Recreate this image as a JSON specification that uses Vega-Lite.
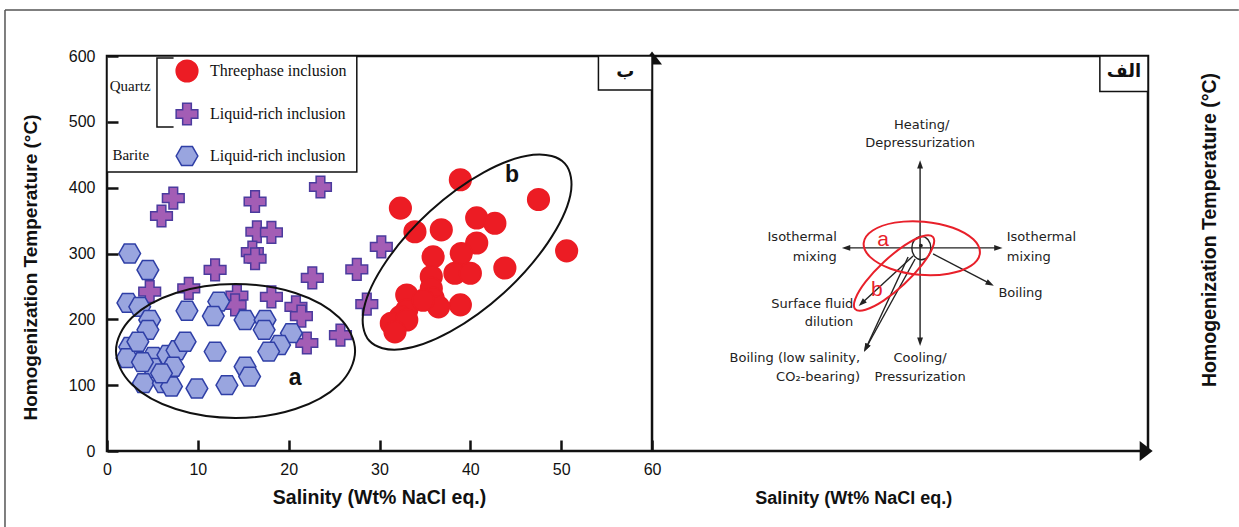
{
  "$schema": "https://vega.github.io/schema/vega-lite/v6.json",
  "width": 1041,
  "height": 395,
  "autosize": {"type": "none"},
  "padding": {"left": 107, "top": 56, "right": 91, "bottom": 76},
  "background": "white",
  "config": {
    "font": "Liberation Sans",
    "view": {"stroke": "#111", "strokeWidth": 2.5},
    "axis": {"grid": false}
  },
  "datasets": {
    "inclusions": [
      {"type": "Liquid-rich inclusion (quartz)", "salinity": 7.3, "temperature": 384},
      {"type": "Liquid-rich inclusion (quartz)", "salinity": 6.0, "temperature": 357},
      {"type": "Liquid-rich inclusion (quartz)", "salinity": 16.3, "temperature": 379},
      {"type": "Liquid-rich inclusion (quartz)", "salinity": 16.5, "temperature": 333},
      {"type": "Liquid-rich inclusion (quartz)", "salinity": 18.1, "temperature": 332},
      {"type": "Liquid-rich inclusion (quartz)", "salinity": 16.0, "temperature": 302},
      {"type": "Liquid-rich inclusion (quartz)", "salinity": 16.3, "temperature": 292},
      {"type": "Liquid-rich inclusion (quartz)", "salinity": 23.5, "temperature": 401},
      {"type": "Liquid-rich inclusion (quartz)", "salinity": 11.9, "temperature": 275},
      {"type": "Liquid-rich inclusion (quartz)", "salinity": 30.2, "temperature": 310},
      {"type": "Liquid-rich inclusion (quartz)", "salinity": 27.5, "temperature": 276},
      {"type": "Liquid-rich inclusion (quartz)", "salinity": 22.6, "temperature": 263},
      {"type": "Liquid-rich inclusion (quartz)", "salinity": 4.7, "temperature": 242},
      {"type": "Liquid-rich inclusion (quartz)", "salinity": 9.0, "temperature": 247},
      {"type": "Liquid-rich inclusion (quartz)", "salinity": 14.3, "temperature": 236},
      {"type": "Liquid-rich inclusion (quartz)", "salinity": 18.1, "temperature": 234},
      {"type": "Liquid-rich inclusion (quartz)", "salinity": 28.6, "temperature": 223},
      {"type": "Liquid-rich inclusion (quartz)", "salinity": 20.8, "temperature": 219},
      {"type": "Liquid-rich inclusion (quartz)", "salinity": 21.4, "temperature": 205},
      {"type": "Liquid-rich inclusion (quartz)", "salinity": 25.7, "temperature": 176},
      {"type": "Liquid-rich inclusion (quartz)", "salinity": 22.0, "temperature": 164},
      {"type": "Liquid-rich inclusion (quartz)", "salinity": 14.1, "temperature": 222},
      {"type": "Liquid-rich inclusion (barite)", "salinity": 2.5, "temperature": 300},
      {"type": "Liquid-rich inclusion (barite)", "salinity": 4.5, "temperature": 275},
      {"type": "Liquid-rich inclusion (barite)", "salinity": 2.3, "temperature": 225},
      {"type": "Liquid-rich inclusion (barite)", "salinity": 3.6, "temperature": 219},
      {"type": "Liquid-rich inclusion (barite)", "salinity": 4.7, "temperature": 199},
      {"type": "Liquid-rich inclusion (barite)", "salinity": 4.5, "temperature": 184},
      {"type": "Liquid-rich inclusion (barite)", "salinity": 8.8, "temperature": 213},
      {"type": "Liquid-rich inclusion (barite)", "salinity": 12.3, "temperature": 227},
      {"type": "Liquid-rich inclusion (barite)", "salinity": 11.7, "temperature": 205},
      {"type": "Liquid-rich inclusion (barite)", "salinity": 15.2, "temperature": 199},
      {"type": "Liquid-rich inclusion (barite)", "salinity": 17.4, "temperature": 199},
      {"type": "Liquid-rich inclusion (barite)", "salinity": 17.3, "temperature": 184},
      {"type": "Liquid-rich inclusion (barite)", "salinity": 20.3, "temperature": 179},
      {"type": "Liquid-rich inclusion (barite)", "salinity": 19.0, "temperature": 161},
      {"type": "Liquid-rich inclusion (barite)", "salinity": 17.8, "temperature": 151},
      {"type": "Liquid-rich inclusion (barite)", "salinity": 2.5, "temperature": 158},
      {"type": "Liquid-rich inclusion (barite)", "salinity": 2.2, "temperature": 141},
      {"type": "Liquid-rich inclusion (barite)", "salinity": 3.4, "temperature": 166},
      {"type": "Liquid-rich inclusion (barite)", "salinity": 5.1, "temperature": 143},
      {"type": "Liquid-rich inclusion (barite)", "salinity": 6.7, "temperature": 146},
      {"type": "Liquid-rich inclusion (barite)", "salinity": 7.7, "temperature": 153},
      {"type": "Liquid-rich inclusion (barite)", "salinity": 8.6, "temperature": 166},
      {"type": "Liquid-rich inclusion (barite)", "salinity": 5.1, "temperature": 126},
      {"type": "Liquid-rich inclusion (barite)", "salinity": 7.3, "temperature": 128},
      {"type": "Liquid-rich inclusion (barite)", "salinity": 11.9, "temperature": 151},
      {"type": "Liquid-rich inclusion (barite)", "salinity": 15.2, "temperature": 128},
      {"type": "Liquid-rich inclusion (barite)", "salinity": 15.7, "temperature": 113},
      {"type": "Liquid-rich inclusion (barite)", "salinity": 4.0, "temperature": 103},
      {"type": "Liquid-rich inclusion (barite)", "salinity": 6.2, "temperature": 103},
      {"type": "Liquid-rich inclusion (barite)", "salinity": 7.1, "temperature": 98},
      {"type": "Liquid-rich inclusion (barite)", "salinity": 9.9, "temperature": 95},
      {"type": "Liquid-rich inclusion (barite)", "salinity": 13.2, "temperature": 100},
      {"type": "Liquid-rich inclusion (barite)", "salinity": 3.9, "temperature": 135},
      {"type": "Liquid-rich inclusion (barite)", "salinity": 6.0, "temperature": 118},
      {"type": "Threephase inclusion", "salinity": 38.9, "temperature": 412},
      {"type": "Threephase inclusion", "salinity": 32.3, "temperature": 369},
      {"type": "Threephase inclusion", "salinity": 47.5, "temperature": 382},
      {"type": "Threephase inclusion", "salinity": 40.7, "temperature": 354},
      {"type": "Threephase inclusion", "salinity": 42.7, "temperature": 346},
      {"type": "Threephase inclusion", "salinity": 33.9, "temperature": 333},
      {"type": "Threephase inclusion", "salinity": 36.8, "temperature": 336},
      {"type": "Threephase inclusion", "salinity": 50.6, "temperature": 304},
      {"type": "Threephase inclusion", "salinity": 40.7, "temperature": 316},
      {"type": "Threephase inclusion", "salinity": 39.0, "temperature": 300},
      {"type": "Threephase inclusion", "salinity": 35.9, "temperature": 295},
      {"type": "Threephase inclusion", "salinity": 43.8, "temperature": 278},
      {"type": "Threephase inclusion", "salinity": 38.3, "temperature": 270},
      {"type": "Threephase inclusion", "salinity": 40.0, "temperature": 270},
      {"type": "Threephase inclusion", "salinity": 35.7, "temperature": 265},
      {"type": "Threephase inclusion", "salinity": 35.7, "temperature": 247},
      {"type": "Threephase inclusion", "salinity": 33.0, "temperature": 237},
      {"type": "Threephase inclusion", "salinity": 35.9, "temperature": 232},
      {"type": "Threephase inclusion", "salinity": 38.9, "temperature": 222},
      {"type": "Threephase inclusion", "salinity": 36.5, "temperature": 219},
      {"type": "Threephase inclusion", "salinity": 33.0, "temperature": 214},
      {"type": "Threephase inclusion", "salinity": 32.3, "temperature": 204},
      {"type": "Threephase inclusion", "salinity": 31.3, "temperature": 194},
      {"type": "Threephase inclusion", "salinity": 33.0, "temperature": 199},
      {"type": "Threephase inclusion", "salinity": 31.7, "temperature": 181},
      {"type": "Threephase inclusion", "salinity": 34.8, "temperature": 229}
    ],
    "envelopes": [
      {"envelope": "a", "i": 0, "salinity": 27.31, "temperature": 151.9},
      {"envelope": "a", "i": 1, "salinity": 25.55, "temperature": 202.8},
      {"envelope": "a", "i": 2, "salinity": 20.73, "temperature": 240.1},
      {"envelope": "a", "i": 3, "salinity": 14.15, "temperature": 253.7},
      {"envelope": "a", "i": 4, "salinity": 7.57, "temperature": 240.1},
      {"envelope": "a", "i": 5, "salinity": 2.75, "temperature": 202.8},
      {"envelope": "a", "i": 6, "salinity": 0.99, "temperature": 151.9},
      {"envelope": "a", "i": 7, "salinity": 2.75, "temperature": 101.0},
      {"envelope": "a", "i": 8, "salinity": 7.57, "temperature": 63.7},
      {"envelope": "a", "i": 9, "salinity": 14.15, "temperature": 50.1},
      {"envelope": "a", "i": 10, "salinity": 20.73, "temperature": 63.7},
      {"envelope": "a", "i": 11, "salinity": 25.55, "temperature": 101.0},
      {"envelope": "b", "i": 0, "salinity": 50.39, "temperature": 436.9},
      {"envelope": "b", "i": 1, "salinity": 51.0, "temperature": 388.0},
      {"envelope": "b", "i": 2, "salinity": 48.52, "temperature": 316.2},
      {"envelope": "b", "i": 3, "salinity": 43.71, "temperature": 240.4},
      {"envelope": "b", "i": 4, "salinity": 37.79, "temperature": 181.3},
      {"envelope": "b", "i": 5, "salinity": 32.36, "temperature": 154.5},
      {"envelope": "b", "i": 6, "salinity": 28.88, "temperature": 167.4},
      {"envelope": "b", "i": 7, "salinity": 28.28, "temperature": 216.5},
      {"envelope": "b", "i": 8, "salinity": 30.74, "temperature": 288.2},
      {"envelope": "b", "i": 9, "salinity": 35.56, "temperature": 364.1},
      {"envelope": "b", "i": 10, "salinity": 41.48, "temperature": 423.2},
      {"envelope": "b", "i": 11, "salinity": 46.91, "temperature": 449.9}
    ],
    "envelopeLabels": [
      {"label": "a", "salinity": 20.7, "temperature": 111},
      {"label": "b", "salinity": 44.6, "temperature": 419}
    ],
    "schemeEnvelopes": [
      {"envelope": "a", "i": 0, "salinity": 96.09, "temperature": 300.2},
      {"envelope": "a", "i": 1, "salinity": 95.09, "temperature": 281.1},
      {"envelope": "a", "i": 2, "salinity": 92.65, "temperature": 269.2},
      {"envelope": "a", "i": 3, "salinity": 89.44, "temperature": 267.6},
      {"envelope": "a", "i": 4, "salinity": 86.27, "temperature": 276.9},
      {"envelope": "a", "i": 5, "salinity": 84.03, "temperature": 294.5},
      {"envelope": "a", "i": 6, "salinity": 83.3, "temperature": 315.8},
      {"envelope": "a", "i": 7, "salinity": 84.29, "temperature": 334.9},
      {"envelope": "a", "i": 8, "salinity": 86.72, "temperature": 346.9},
      {"envelope": "a", "i": 9, "salinity": 89.95, "temperature": 348.4},
      {"envelope": "a", "i": 10, "salinity": 93.12, "temperature": 339.2},
      {"envelope": "a", "i": 11, "salinity": 95.37, "temperature": 321.5},
      {"envelope": "b", "i": 0, "salinity": 90.92, "temperature": 325.2},
      {"envelope": "b", "i": 1, "salinity": 90.91, "temperature": 309.6},
      {"envelope": "b", "i": 2, "salinity": 89.76, "temperature": 283.4},
      {"envelope": "b", "i": 3, "salinity": 87.77, "temperature": 253.6},
      {"envelope": "b", "i": 4, "salinity": 85.49, "temperature": 228.4},
      {"envelope": "b", "i": 5, "salinity": 83.5, "temperature": 214.5},
      {"envelope": "b", "i": 6, "salinity": 82.37, "temperature": 215.4},
      {"envelope": "b", "i": 7, "salinity": 82.38, "temperature": 231.2},
      {"envelope": "b", "i": 8, "salinity": 83.52, "temperature": 257.3},
      {"envelope": "b", "i": 9, "salinity": 85.52, "temperature": 287.1},
      {"envelope": "b", "i": 10, "salinity": 87.8, "temperature": 312.4},
      {"envelope": "b", "i": 11, "salinity": 89.78, "temperature": 326.3}
    ],
    "schemeEnvelopeLabels": [
      {"label": "a", "salinity": 85.43, "temperature": 320.5},
      {"label": "b", "salinity": 84.74, "temperature": 244.6}
    ],
    "fluidCore": [
      {"i": 0, "salinity": 90.7, "temperature": 308.2},
      {"i": 1, "salinity": 90.39, "temperature": 320.8},
      {"i": 2, "salinity": 89.65, "temperature": 326.0},
      {"i": 3, "salinity": 88.91, "temperature": 320.8},
      {"i": 4, "salinity": 88.6, "temperature": 308.2},
      {"i": 5, "salinity": 88.91, "temperature": 295.6},
      {"i": 6, "salinity": 89.65, "temperature": 290.4},
      {"i": 7, "salinity": 90.39, "temperature": 295.6}
    ],
    "processArrows": [
      {"process": "Heating/Depressurization", "salinity": 89.51, "temperature": 308.5, "salinity2": 89.51, "temperature2": 435.4, "heading": 0},
      {"process": "Cooling/Pressurization", "salinity": 89.51, "temperature": 308.5, "salinity2": 89.51, "temperature2": 166.0, "heading": 180},
      {"process": "Isothermal mixing (low)", "salinity": 89.51, "temperature": 308.5, "salinity2": 81.36, "temperature2": 308.5, "heading": 270},
      {"process": "Isothermal mixing (high)", "salinity": 89.51, "temperature": 308.5, "salinity2": 98.13, "temperature2": 308.5, "heading": 90},
      {"process": "Boiling", "salinity": 90.94, "temperature": 299.3, "salinity2": 97.22, "temperature2": 254.1, "heading": 117.5},
      {"process": "Surface fluid dilution", "salinity": 88.74, "temperature": 296.2, "salinity2": 83.09, "temperature2": 224.4, "heading": 227.3},
      {"process": "Boiling (low salinity, CO2-bearing)", "salinity": 88.96, "temperature": 291.7, "salinity2": 83.56, "temperature2": 156.5, "heading": 208.8},
      {"process": "Boiling (low salinity, CO2-bearing)", "salinity": 88.19, "temperature": 294.7, "salinity2": 83.56, "temperature2": 156.5, "heading": 206.5}
    ],
    "labelsRight": [
      {"text": "Isothermal", "salinity": 80.34, "temperature": 325.5},
      {"text": "mixing", "salinity": 80.34, "temperature": 295.1},
      {"text": "Surface fluid", "salinity": 82.16, "temperature": 223.3},
      {"text": "dilution", "salinity": 82.16, "temperature": 196.4},
      {"text": "Boiling (low salinity,", "salinity": 82.9, "temperature": 140.8},
      {"text": "CO₂-bearing)", "salinity": 82.9, "temperature": 112.9}
    ],
    "labelsLeft": [
      {"text": "Isothermal", "salinity": 99.05, "temperature": 325.5},
      {"text": "mixing", "salinity": 99.05, "temperature": 295.1},
      {"text": "Boiling", "salinity": 98.13, "temperature": 239.6}
    ],
    "labelsCenter": [
      {"text": "Heating/", "salinity": 89.69, "temperature": 495.2},
      {"text": "Depressurization", "salinity": 89.51, "temperature": 467.4},
      {"text": "Cooling/", "salinity": 89.51, "temperature": 140.8},
      {"text": "Pressurization", "salinity": 89.51, "temperature": 112.9}
    ],
    "bracket": [
      {"i": 0, "salinity": 7.33, "temperature": 597},
      {"i": 1, "salinity": 5.5, "temperature": 597},
      {"i": 2, "salinity": 5.5, "temperature": 492},
      {"i": 3, "salinity": 7.33, "temperature": 492}
    ]
  },
  "layer": [
    {
      "data": {"values": [{}]},
      "mark": {"type": "rule", "color": "#555", "strokeWidth": 1.5},
      "encoding": {"x": {"datum": -11.23}, "x2": {"datum": 124.6}, "y": {"datum": 669.9}}
    },
    {
      "data": {"values": [{}]},
      "mark": {"type": "rule", "color": "#555", "strokeWidth": 1.5},
      "encoding": {"x": {"datum": -11.23}, "y": {"datum": 669.9}, "y2": {"datum": -115.4}}
    },
    {
      "data": {"values": [{}]},
      "mark": {"type": "rect", "fill": "white", "stroke": "#111", "strokeWidth": 1.5},
      "encoding": {"x": {"datum": 0}, "x2": {"datum": 27.5}, "y": {"datum": 423.8}, "y2": {"datum": 600}}
    },
    {
      "data": {"values": [{}]},
      "mark": {"type": "text", "font": "Liberation Serif", "fontSize": 15, "align": "left", "baseline": "middle", "color": "#111"},
      "encoding": {"x": {"datum": 0.3}, "y": {"datum": 554}, "text": {"value": "Quartz"}}
    },
    {
      "data": {"values": [{}]},
      "mark": {"type": "text", "font": "Liberation Serif", "fontSize": 15, "align": "left", "baseline": "middle", "color": "#111"},
      "encoding": {"x": {"datum": 0.6}, "y": {"datum": 450}, "text": {"value": "Barite"}}
    },
    {
      "data": {"name": "bracket"},
      "mark": {"type": "line", "color": "#111", "strokeWidth": 1.5},
      "encoding": {
        "x": {"field": "salinity", "type": "quantitative"},
        "y": {"field": "temperature", "type": "quantitative"},
        "order": {"field": "i", "type": "quantitative"}
      }
    },
    {
      "data": {"name": "inclusions"},
      "mark": {"type": "point", "filled": true, "opacity": 1, "size": 470, "strokeWidth": 1.5},
      "encoding": {
        "x": {
          "field": "salinity",
          "type": "quantitative",
          "scale": {"domain": [0, 114.6], "nice": false, "zero": false},
          "axis": {
            "values": [0, 10, 20, 30, 40, 50, 60],
            "title": "Salinity (Wt% NaCl eq.)",
            "titleX": 272,
            "titleY": 48,
            "titleAlign": "center",
            "titleBaseline": "top",
            "titleFontSize": 19.5,
            "titleFontWeight": "bold",
            "titleColor": "#111",
            "labelFontSize": 16,
            "labelColor": "#111",
            "labelFlush": false,
            "offset": -11,
            "tickSize": 11,
            "tickWidth": 2.5,
            "tickColor": "#111",
            "labelPadding": 10,
            "domain": false,
            "grid": false,
            "zindex": 1
          }
        },
        "y": {
          "field": "temperature",
          "type": "quantitative",
          "scale": {"domain": [0, 600], "nice": false, "zero": false},
          "axis": {
            "values": [0, 100, 200, 300, 400, 500, 600],
            "title": "Homogenization Temperature (°C)",
            "titleX": -88,
            "titleY": 211,
            "titleAngle": 270,
            "titleAlign": "center",
            "titleBaseline": "middle",
            "titleFontSize": 19,
            "titleFontWeight": "bold",
            "titleColor": "#111",
            "labelFontSize": 16,
            "labelColor": "#111",
            "labelFlush": false,
            "offset": -11,
            "tickSize": 11,
            "tickWidth": 2.5,
            "tickColor": "#111",
            "labelPadding": 12,
            "domain": false,
            "grid": false,
            "zindex": 1
          }
        },
        "shape": {
          "field": "type",
          "type": "nominal",
          "scale": {
            "domain": ["Threephase inclusion", "Liquid-rich inclusion (quartz)", "Liquid-rich inclusion (barite)"],
            "range": ["circle", "cross", "M-1,0L-0.5,-0.87L0.5,-0.87L1,0L0.5,0.87L-0.5,0.87Z"]
          },
          "legend": {
            "title": null,
            "orient": "none",
            "legendX": 68,
            "legendY": 3,
            "padding": 0,
            "rowPadding": 15,
            "symbolSize": 470,
            "symbolStrokeWidth": 1.5,
            "symbolOpacity": 1,
            "labelFont": "Liberation Serif",
            "labelFontSize": 16,
            "labelColor": "#111",
            "labelOffset": 11,
            "labelExpr": "split(datum.label, ' (')[0]"
          }
        },
        "fill": {
          "field": "type",
          "type": "nominal",
          "scale": {
            "domain": ["Threephase inclusion", "Liquid-rich inclusion (quartz)", "Liquid-rich inclusion (barite)"],
            "range": ["#ec1c24", "#a35db5", "#99a5df"]
          }
        },
        "stroke": {
          "field": "type",
          "type": "nominal",
          "scale": {
            "domain": ["Threephase inclusion", "Liquid-rich inclusion (quartz)", "Liquid-rich inclusion (barite)"],
            "range": ["#ec1c24", "#4b3b9e", "#2f3fa6"]
          }
        }
      }
    },
    {
      "data": {"name": "envelopes"},
      "mark": {"type": "line", "interpolate": "cardinal-closed", "color": "#111", "strokeWidth": 2},
      "encoding": {
        "x": {"field": "salinity", "type": "quantitative"},
        "y": {"field": "temperature", "type": "quantitative"},
        "detail": {"field": "envelope", "type": "nominal"},
        "order": {"field": "i", "type": "quantitative"}
      }
    },
    {
      "data": {"name": "envelopeLabels"},
      "mark": {"type": "text", "fontSize": 23, "fontWeight": "bold", "color": "#111", "baseline": "middle"},
      "encoding": {
        "x": {"field": "salinity", "type": "quantitative"},
        "y": {"field": "temperature", "type": "quantitative"},
        "text": {"field": "label"}
      }
    },
    {
      "data": {"values": [{}]},
      "mark": {"type": "rule", "color": "#111", "strokeWidth": 2.5},
      "encoding": {"x": {"datum": 60}, "y": {"datum": 0}, "y2": {"datum": 600}}
    },
    {
      "data": {"values": [{}]},
      "mark": {"type": "point", "shape": "M0,-0.65L1,0.65L-1,0.65Z", "size": 400, "filled": true, "color": "#111", "opacity": 1},
      "encoding": {"x": {"datum": 60}, "y": {"datum": 597}}
    },
    {
      "data": {"values": [{}]},
      "mark": {"type": "point", "shape": "M0.65,0L-0.65,1L-0.65,-1Z", "size": 400, "filled": true, "color": "#111", "opacity": 1},
      "encoding": {"x": {"datum": 114.4}, "y": {"datum": 0}}
    },
    {
      "data": {"values": [{}]},
      "mark": {"type": "rect", "fill": "white", "stroke": "#111", "strokeWidth": 1.5},
      "encoding": {"x": {"datum": 54.1}, "x2": {"datum": 60}, "y": {"datum": 548.4}, "y2": {"datum": 600}}
    },
    {
      "data": {"values": [{}]},
      "mark": {"type": "text", "font": "DejaVu Sans", "fontSize": 18, "fontWeight": "bold", "color": "#111", "baseline": "middle"},
      "encoding": {"x": {"datum": 57.05}, "y": {"datum": 575}, "text": {"value": "ب"}}
    },
    {
      "data": {"values": [{}]},
      "mark": {"type": "rect", "fill": "white", "stroke": "#111", "strokeWidth": 1.5},
      "encoding": {"x": {"datum": 109.3}, "x2": {"datum": 114.6}, "y": {"datum": 546}, "y2": {"datum": 600}}
    },
    {
      "data": {"values": [{}]},
      "mark": {"type": "text", "font": "DejaVu Sans", "fontSize": 18, "fontWeight": "bold", "color": "#111", "baseline": "middle"},
      "encoding": {"x": {"datum": 111.95}, "y": {"datum": 575}, "text": {"value": "الف"}}
    },
    {
      "data": {"name": "processArrows"},
      "mark": {"type": "rule", "color": "#222", "strokeWidth": 1.4},
      "encoding": {
        "x": {"field": "salinity", "type": "quantitative"},
        "y": {"field": "temperature", "type": "quantitative"},
        "x2": {"field": "salinity2"},
        "y2": {"field": "temperature2"}
      }
    },
    {
      "data": {"name": "processArrows"},
      "mark": {"type": "point", "shape": "M0,-1L0.7,1L-0.7,1Z", "size": 70, "filled": true, "color": "#222", "opacity": 1},
      "encoding": {
        "x": {"field": "salinity2", "type": "quantitative"},
        "y": {"field": "temperature2", "type": "quantitative"},
        "angle": {"field": "heading", "type": "quantitative", "scale": null}
      }
    },
    {
      "data": {"name": "fluidCore"},
      "mark": {"type": "line", "interpolate": "cardinal-closed", "color": "#222", "strokeWidth": 1.4},
      "encoding": {
        "x": {"field": "salinity", "type": "quantitative"},
        "y": {"field": "temperature", "type": "quantitative"},
        "order": {"field": "i", "type": "quantitative"}
      }
    },
    {
      "data": {"values": [{}]},
      "mark": {"type": "point", "shape": "circle", "size": 14, "filled": true, "color": "#222", "opacity": 1},
      "encoding": {"x": {"datum": 89.6}, "y": {"datum": 312}}
    },
    {
      "data": {"name": "schemeEnvelopes"},
      "mark": {"type": "line", "interpolate": "cardinal-closed", "color": "#e8202a", "strokeWidth": 2},
      "encoding": {
        "x": {"field": "salinity", "type": "quantitative"},
        "y": {"field": "temperature", "type": "quantitative"},
        "detail": {"field": "envelope", "type": "nominal"},
        "order": {"field": "i", "type": "quantitative"}
      }
    },
    {
      "data": {"name": "schemeEnvelopeLabels"},
      "mark": {"type": "text", "fontSize": 21, "color": "#e8202a", "baseline": "middle"},
      "encoding": {
        "x": {"field": "salinity", "type": "quantitative"},
        "y": {"field": "temperature", "type": "quantitative"},
        "text": {"field": "label"}
      }
    },
    {
      "data": {"name": "labelsRight"},
      "mark": {"type": "text", "font": "DejaVu Sans", "fontSize": 13, "color": "#222", "align": "right", "baseline": "middle"},
      "encoding": {
        "x": {"field": "salinity", "type": "quantitative"},
        "y": {"field": "temperature", "type": "quantitative"},
        "text": {"field": "text"}
      }
    },
    {
      "data": {"name": "labelsLeft"},
      "mark": {"type": "text", "font": "DejaVu Sans", "fontSize": 13, "color": "#222", "align": "left", "baseline": "middle"},
      "encoding": {
        "x": {"field": "salinity", "type": "quantitative"},
        "y": {"field": "temperature", "type": "quantitative"},
        "text": {"field": "text"}
      }
    },
    {
      "data": {"name": "labelsCenter"},
      "mark": {"type": "text", "font": "DejaVu Sans", "fontSize": 13, "color": "#222", "align": "center", "baseline": "middle"},
      "encoding": {
        "x": {"field": "salinity", "type": "quantitative"},
        "y": {"field": "temperature", "type": "quantitative"},
        "text": {"field": "text"}
      }
    },
    {
      "data": {"values": [{}]},
      "mark": {"type": "text", "fontSize": 18, "fontWeight": "bold", "color": "#111", "align": "center", "baseline": "middle"},
      "encoding": {"x": {"datum": 82.2}, "y": {"datum": -72.5}, "text": {"value": "Salinity (Wt% NaCl eq.)"}}
    },
    {
      "data": {"values": [{}]},
      "mark": {"type": "text", "angle": 270, "fontSize": 19.5, "fontWeight": "bold", "color": "#111", "align": "center", "baseline": "middle"},
      "encoding": {"x": {"datum": 121.4}, "y": {"datum": 335.7}, "text": {"value": "Homogenization Temperature (°C)"}}
    }
  ]
}
